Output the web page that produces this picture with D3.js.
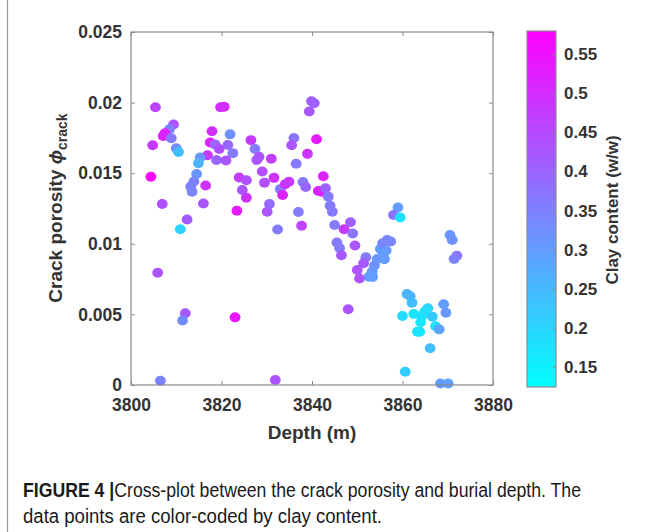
<!DOCTYPE html>
<html>
<head>
<meta charset="utf-8">
<script src="https://cdn.jsdelivr.net/npm/d3@7"></script>
<style>
  body { margin: 0; background: #fff; }
  svg { display: block; }
</style>
</head>
<body>
<div id="chart"></div>
<script>
// DATA
const depth = [
  3805.4, 3819.8, 3820.6, 3839.9, 3840.5, 3839.4, 3809.4, 3808.5, 3807.5, 3807.1,
  3808.9, 3804.8, 3817.9, 3821.9, 3810.0, 3810.5, 3817.5, 3818.6, 3819.5, 3821.4,
  3822.5, 3816.9, 3815.3, 3814.9, 3818.9, 3821.0, 3826.5, 3827.4, 3828.3, 3827.8,
  3831.0, 3829.0, 3831.6, 3829.5, 3836.0, 3835.5, 3836.5, 3839.0, 3841.0, 3842.5,
  3804.4, 3814.5, 3813.9, 3813.2, 3813.5, 3816.5, 3823.9, 3825.5, 3824.6, 3825.5,
  3833.0, 3834.1, 3834.9, 3833.5, 3838.0, 3838.6, 3841.4, 3842.2, 3843.0, 3843.6,
  3806.9, 3816.0, 3823.4, 3830.1, 3830.6, 3837.0, 3812.4, 3810.9, 3832.4, 3837.7,
  3844.0, 3844.5, 3845.0, 3847.1, 3848.5, 3849.0, 3845.5, 3846.1, 3846.5, 3849.5,
  3851.9, 3851.4, 3850.0, 3850.5, 3854.4, 3853.8, 3853.3, 3852.6, 3853.4, 3855.1,
  3855.6, 3856.6, 3857.4, 3856.4, 3856.0, 3855.8, 3859.0, 3858.0, 3859.5, 3870.5,
  3871.0, 3872.0, 3871.4, 3848.0, 3861.0, 3861.7, 3862.1, 3860.0, 3862.5, 3865.6,
  3864.9, 3864.3, 3866.6, 3864.0, 3863.3, 3863.8, 3867.3, 3868.1, 3869.1, 3869.6,
  3866.1, 3860.6, 3868.4, 3870.1, 3805.9, 3812.0, 3811.4, 3823.0, 3806.5, 3831.9
];

const crackPorosity = [
  0.01967, 0.01967, 0.01971, 0.02009, 0.01995, 0.01937, 0.01845, 0.01811, 0.01783, 0.01763,
  0.01747, 0.01698, 0.01797, 0.01775, 0.01676, 0.01650, 0.01717, 0.01703, 0.01671, 0.01700,
  0.01642, 0.01627, 0.01611, 0.01570, 0.01593, 0.01590, 0.01734, 0.01671, 0.01617, 0.01593,
  0.01602, 0.01512, 0.01467, 0.01433, 0.01749, 0.01698, 0.01567, 0.01637, 0.01741, 0.01479,
  0.01475, 0.01494, 0.01441, 0.01406, 0.01368, 0.01413, 0.01470, 0.01450, 0.01381, 0.01326,
  0.01387, 0.01422, 0.01439, 0.01346, 0.01438, 0.01402, 0.01374, 0.01369, 0.01393, 0.01334,
  0.01282, 0.01285, 0.01234, 0.01227, 0.01282, 0.01225, 0.01172, 0.01103, 0.01101, 0.01128,
  0.01269, 0.01227, 0.01133, 0.01103, 0.01152, 0.01073, 0.01009, 0.00970, 0.00919, 0.00988,
  0.00904, 0.00862, 0.00814, 0.00754, 0.00892, 0.00846, 0.00804, 0.00767, 0.00765, 0.00963,
  0.01004, 0.01027, 0.01016, 0.00953, 0.00891, 0.00931, 0.01257, 0.01204, 0.01186, 0.01062,
  0.01027, 0.00915, 0.00892, 0.00536, 0.00644, 0.00628, 0.00583, 0.00489, 0.00503, 0.00543,
  0.00519, 0.00489, 0.00484, 0.00444, 0.00377, 0.00377, 0.00416, 0.00394, 0.00572, 0.00512,
  0.00260, 0.00094, 0.00010, 0.00010, 0.00795, 0.00508, 0.00457, 0.00479, 0.00030, 0.00035
];

const clay = [
  0.46, 0.50, 0.50, 0.41, 0.41, 0.42, 0.43, 0.35, 0.52, 0.52,
  0.36, 0.48, 0.50, 0.32, 0.33, 0.24, 0.52, 0.40, 0.44, 0.40,
  0.36, 0.48, 0.31, 0.26, 0.40, 0.43, 0.48, 0.36, 0.43, 0.43,
  0.47, 0.44, 0.49, 0.44, 0.37, 0.43, 0.36, 0.49, 0.53, 0.52,
  0.57, 0.31, 0.35, 0.35, 0.34, 0.49, 0.47, 0.44, 0.43, 0.49,
  0.36, 0.49, 0.48, 0.52, 0.36, 0.40, 0.52, 0.52, 0.41, 0.36,
  0.44, 0.43, 0.53, 0.43, 0.39, 0.36, 0.42, 0.20, 0.36, 0.46,
  0.36, 0.36, 0.36, 0.48, 0.41, 0.37, 0.36, 0.36, 0.42, 0.43,
  0.36, 0.42, 0.43, 0.43, 0.31, 0.32, 0.31, 0.31, 0.30, 0.30,
  0.34, 0.34, 0.34, 0.31, 0.30, 0.30, 0.30, 0.37, 0.18, 0.31,
  0.32, 0.37, 0.35, 0.43, 0.26, 0.26, 0.24, 0.19, 0.17, 0.20,
  0.18, 0.18, 0.22, 0.17, 0.17, 0.17, 0.18, 0.29, 0.30, 0.31,
  0.24, 0.21, 0.30, 0.30, 0.43, 0.42, 0.33, 0.54, 0.35, 0.43
];

const xTicks = [3800, 3820, 3840, 3860, 3880];
const yTicks = [0, 0.005, 0.01, 0.015, 0.02, 0.025];
const yTickLabels = ["0", "0.005", "0.01", "0.015", "0.02", "0.025"];
const cTicks = [0.15, 0.2, 0.25, 0.3, 0.35, 0.4, 0.45, 0.5, 0.55];
const cTickLabels = ["0.15", "0.2", "0.25", "0.3", "0.35", "0.4", "0.45", "0.5", "0.55"];
const clayRange = [0.124, 0.58];

// LAYOUT
const width = 653;
const height = 532;
const plot = { left: 131, right: 493, top: 32, bottom: 385 };
const cbar = { left: 527, right: 556, top: 31, bottom: 387 };
const AXIS_GREY = "#8a8a8a";
const LABEL_DARK = "#333";
const FONT = "'Liberation Sans', Arial, Helvetica, sans-serif";

const svg = d3
  .select("#chart")
  .append("svg")
  .attr("width", width)
  .attr("height", height)
  .style("background", "#fff");

// left frame line of the figure panel
svg
  .append("line")
  .attr("x1", 7.5)
  .attr("x2", 7.5)
  .attr("y1", 0)
  .attr("y2", height)
  .attr("stroke", "#999")
  .attr("stroke-width", 1.2);

const x = d3.scaleLinear().domain([3800, 3880]).range([plot.left, plot.right]);
const y = d3.scaleLinear().domain([0, 0.025]).range([plot.bottom, plot.top]);
const cScale = d3
  .scaleLinear()
  .domain(clayRange)
  .range(["#00ffff", "#ff00ff"])
  .interpolate(d3.interpolateRgb)
  .clamp(true);

//POINTS
const points = depth.map((d, i) => ({ d, p: crackPorosity[i], c: clay[i] }));

svg
  .append("g")
  .selectAll("ellipse")
  .data(points)
  .join("ellipse")
  .attr("cx", (d) => x(d.d))
  .attr("cy", (d) => y(d.p))
  .attr("rx", 5.4)
  .attr("ry", 5)
  .attr("fill", (d) => cScale(d.c));

//AXES (box with inward ticks on all sides)
const tickLen = 4;
const axisStyle = (g) => {
  g.select(".domain").remove();
  g.selectAll(".tick line").attr("stroke", AXIS_GREY);
  g.selectAll(".tick text")
    .attr("fill", LABEL_DARK)
    .style("font-family", FONT)
    .style("font-weight", "bold")
    .style("font-size", "17.5px");
};

svg
  .append("g")
  .attr("transform", `translate(0,${plot.bottom})`)
  .call(d3.axisBottom(x).tickValues(xTicks).tickSizeInner(-tickLen).tickSizeOuter(0).tickPadding(14).tickFormat(d3.format("d")))
  .call(axisStyle);

svg
  .append("g")
  .attr("transform", `translate(0,${plot.top})`)
  .call(d3.axisTop(x).tickValues(xTicks).tickSizeInner(-tickLen).tickSizeOuter(0).tickFormat(""))
  .call(axisStyle);

svg
  .append("g")
  .attr("transform", `translate(${plot.left},0)`)
  .call(d3.axisLeft(y).tickValues(yTicks).tickSizeInner(-tickLen).tickSizeOuter(0).tickPadding(9).tickFormat((d, i) => yTickLabels[i]))
  .call(axisStyle);

svg
  .append("g")
  .attr("transform", `translate(${plot.right},0)`)
  .call(d3.axisRight(y).tickValues(yTicks).tickSizeInner(-tickLen).tickSizeOuter(0).tickFormat(""))
  .call(axisStyle);

svg
  .append("rect")
  .attr("x", plot.left)
  .attr("y", plot.top)
  .attr("width", plot.right - plot.left)
  .attr("height", plot.bottom - plot.top)
  .attr("fill", "none")
  .attr("stroke", AXIS_GREY)
  .attr("stroke-width", 1.2);

// axis labels
svg
  .append("text")
  .attr("x", (plot.left + plot.right) / 2)
  .attr("y", 439)
  .attr("text-anchor", "middle")
  .attr("fill", LABEL_DARK)
  .style("font-family", FONT)
  .style("font-weight", "bold")
  .style("font-size", "19px")
  .text("Depth (m)");

const yLabel = svg
  .append("text")
  .attr("transform", `translate(62,208) rotate(-90)`)
  .attr("text-anchor", "middle")
  .attr("fill", LABEL_DARK)
  .style("font-family", FONT)
  .style("font-weight", "bold")
  .style("font-size", "19px");
yLabel.append("tspan").text("Crack porosity ");
yLabel.append("tspan").style("font-style", "italic").text("\u03d5");
yLabel.append("tspan").attr("dy", 5).style("font-size", "14px").text("crack");

//COLORBAR
const defs = svg.append("defs");
const grad = defs
  .append("linearGradient")
  .attr("id", "cool-gradient")
  .attr("x1", 0)
  .attr("x2", 0)
  .attr("y1", 1)
  .attr("y2", 0);
grad
  .selectAll("stop")
  .data([0, 1])
  .join("stop")
  .attr("offset", (d) => `${d * 100}%`)
  .attr("stop-color", (d) => cScale(clayRange[0] + d * (clayRange[1] - clayRange[0])));

svg
  .append("rect")
  .attr("x", cbar.left)
  .attr("y", cbar.top)
  .attr("width", cbar.right - cbar.left)
  .attr("height", cbar.bottom - cbar.top)
  .attr("fill", "url(#cool-gradient)")
  .attr("stroke", AXIS_GREY)
  .attr("stroke-width", 1.2);

const cy = d3.scaleLinear().domain(clayRange).range([cbar.bottom, cbar.top]);

svg
  .append("g")
  .attr("transform", `translate(${cbar.right},0)`)
  .call(d3.axisRight(cy).tickValues(cTicks).tickSizeInner(-3).tickSizeOuter(0).tickPadding(8).tickFormat((d, i) => cTickLabels[i]))
  .call(axisStyle)
  .call((g) => g.selectAll(".tick text").style("font-size", "17px"));

svg
  .append("text")
  .attr("transform", `translate(618,210) rotate(-90)`)
  .attr("text-anchor", "middle")
  .attr("fill", LABEL_DARK)
  .style("font-family", FONT)
  .style("font-weight", "bold")
  .style("font-size", "17px")
  .text("Clay content (w/w)");

// CAPTION
const CAPTION_FONT = "'Liberation Sans Narrow', 'Arial Narrow', 'Liberation Sans', Arial, sans-serif";
const cap1 = svg
  .append("text")
  .attr("x", 23)
  .attr("y", 497)
  .attr("textLength", 558)
  .attr("lengthAdjust", "spacingAndGlyphs")
  .attr("fill", "#1a1a1a")
  .style("font-family", CAPTION_FONT)
  .style("font-size", "19.5px");
cap1.append("tspan").style("font-weight", "bold").text("FIGURE 4 |");
cap1.append("tspan").text("Cross-plot between the crack porosity and burial depth. The");

svg
  .append("text")
  .attr("x", 23)
  .attr("y", 523)
  .attr("textLength", 359)
  .attr("lengthAdjust", "spacingAndGlyphs")
  .attr("fill", "#1a1a1a")
  .style("font-family", CAPTION_FONT)
  .style("font-size", "19.5px")
  .text("data points are color-coded by clay content.");
</script>
</body>
</html>
